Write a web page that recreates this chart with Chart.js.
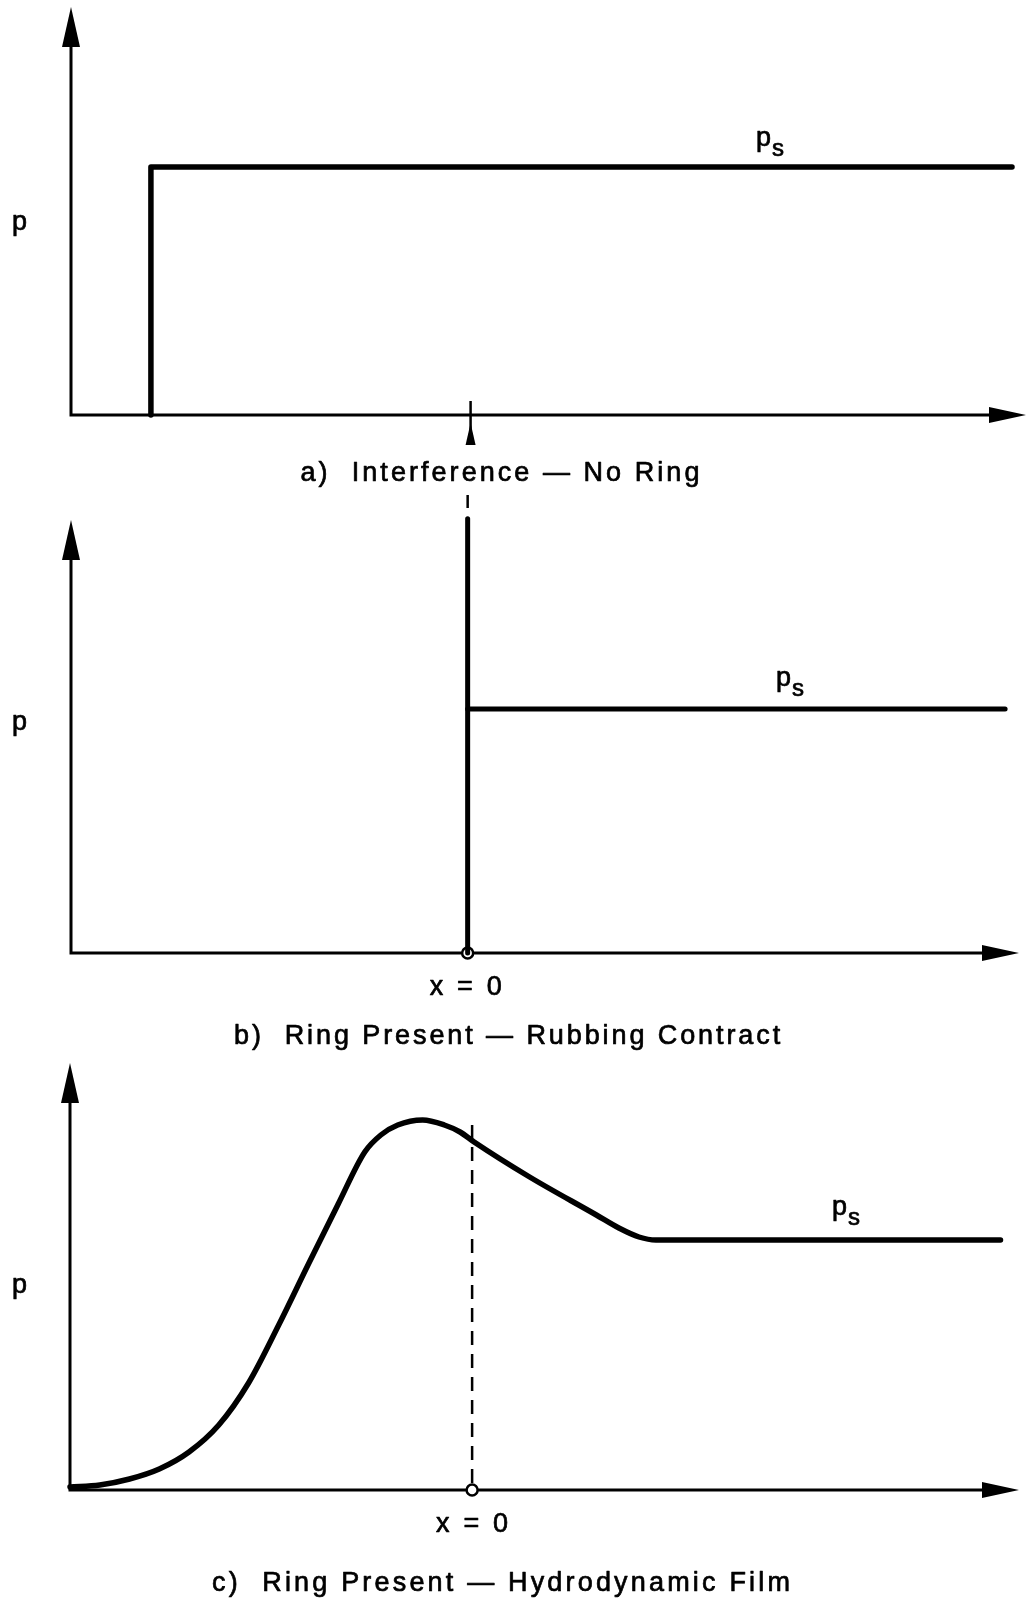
<!DOCTYPE html>
<html>
<head>
<meta charset="utf-8">
<title>Ring pressure profiles</title>
<script src="https://cdn.jsdelivr.net/npm/chart.js@4/dist/chart.umd.min.js"></script>
<style>
  html, body { margin: 0; padding: 0; background: #fff; }
  #wrap { position: relative; width: 1027px; height: 1602px; overflow: hidden; }
  #wrap canvas { position: absolute; left: 0; }
</style>
</head>
<body>
<div id="wrap">
  <canvas id="panelA" width="1027" height="500" style="top:0px"></canvas>
  <canvas id="panelB" width="1027" height="575" style="top:490px"></canvas>
  <canvas id="panelC" width="1027" height="557" style="top:1045px"></canvas>
</div>
<script>
// x is measured in units of the ring offset: the p-axis sits at x = -1, the ring at x = 0.
// p is measured in units of the supply pressure p_s.

// a) Interference, no ring: pressure jumps straight to p_s
const stepX = [-0.80, -0.80, 1.355];
const stepP = [0, 1, 1];

// b) Ring present, rubbing contact: spike at the ring, p_s downstream
const contactX = [0, 0];
const contactP = [0, 1.78];
const supplyBX = [0, 1.355];
const supplyBP = [1, 1];

// c) Ring present, hydrodynamic film: smooth build-up, peak, relax to p_s
const filmX = [-1.000, -0.926, -0.852, -0.778, -0.704, -0.630, -0.556, -0.481, -0.407, -0.333,
               -0.267, -0.227, -0.185, -0.123, -0.069, -0.030, 0.005, 0.143, 0.309, 0.365,
               0.415, 0.457, 1.314];
const filmP = [0.012, 0.020, 0.044, 0.084, 0.152, 0.260, 0.428, 0.660, 0.904, 1.144,
               1.352, 1.420, 1.460, 1.480, 1.460, 1.432, 1.392, 1.252, 1.100, 1.048,
               1.012, 1.000, 1.000];

// ring location on the x-axis
const ringX = [0];
const ringP = [0];

// axis extents (arrow tips) per panel
const pTop = { a: 1.645, b: 1.775, c: 1.708 };
const xMin = -1;
const xMax = { a: 1.39, b: 1.39, c: 1.36 };

// text drawn on each panel
const axisLabel = 'p';
const supplyLabel = ['p', 's'];
const ringLabel = 'x = 0';
const titles = [
  'a)  Interference — No Ring',
  'b)  Ring Present — Rubbing Contract',
  'c)  Ring Present — Hydrodynamic Film'
];

const INK = '#000';
const FONT = '"Liberation Sans", Arial, Helvetica, sans-serif';
const SIZE = 27;

function pts(xs, ps) { return xs.map((x, i) => ({ x: x, y: ps[i] })); }

function inkText(ctx, text, x, y) {
  ctx.fillText(text, x, y);
  ctx.strokeText(text, x, y);
}

function setInk(ctx, size) {
  ctx.font = size + 'px ' + FONT;
  ctx.fillStyle = INK;
  ctx.strokeStyle = INK;
  ctx.lineWidth = 0.7;
  ctx.lineJoin = 'round';
  ctx.textBaseline = 'alphabetic';
}

function fittedText(ctx, text, cx, baseline, width, size) {
  ctx.save();
  setInk(ctx, size);
  ctx.textAlign = 'left';
  const w = ctx.measureText(text).width;
  const n = text.length;
  const sp = n > 1 ? (width - w) / (n - 1) : 0;
  ctx.letterSpacing = sp.toFixed(2) + 'px';
  inkText(ctx, text, cx - width / 2, baseline);
  ctx.restore();
}

function plainText(ctx, text, x, baseline, size, align) {
  ctx.save();
  setInk(ctx, size);
  ctx.textAlign = align || 'left';
  inkText(ctx, text, x, baseline);
  ctx.restore();
}

function spacedCentered(ctx, text, cx, baseline, width, size) {
  fittedText(ctx, text, cx, baseline, width, size);
}

function supplyText(ctx, x, baseline) {
  ctx.save();
  setInk(ctx, SIZE);
  inkText(ctx, supplyLabel[0], x, baseline);
  const w = ctx.measureText(supplyLabel[0]).width;
  setInk(ctx, 24);
  inkText(ctx, supplyLabel[1], x + w + 1, baseline + 10);
  ctx.restore();
}

// axes with arrowheads, drawn from the scales of each panel
const axesPlugin = {
  id: 'arrowAxes',
  beforeDatasetsDraw(chart) {
    const ctx = chart.ctx;
    const xs = chart.scales.x, ys = chart.scales.y;
    const x0 = xs.getPixelForValue(xs.min);
    const y0 = ys.getPixelForValue(0);
    const yTop = ys.getPixelForValue(ys.max);
    const xEnd = xs.getPixelForValue(xs.max);
    ctx.save();
    ctx.strokeStyle = INK;
    ctx.fillStyle = INK;
    ctx.lineWidth = 3;
    ctx.lineCap = 'butt';
    ctx.beginPath();
    ctx.moveTo(x0, y0 + 1.5);
    ctx.lineTo(x0, yTop + 30);
    ctx.moveTo(x0 - 1.5, y0);
    ctx.lineTo(xEnd - 30, y0);
    ctx.stroke();
    // p-axis arrowhead
    ctx.beginPath();
    ctx.moveTo(x0, yTop);
    ctx.lineTo(x0 - 9, yTop + 40);
    ctx.lineTo(x0 + 9, yTop + 40);
    ctx.closePath();
    ctx.fill();
    // x-axis arrowhead
    ctx.beginPath();
    ctx.moveTo(xEnd, y0);
    ctx.lineTo(xEnd - 37, y0 - 8);
    ctx.lineTo(xEnd - 37, y0 + 8);
    ctx.closePath();
    ctx.fill();
    ctx.restore();
  },
  afterDraw(chart) {
    const o = chart.options.plugins.arrowAxes;
    const ctx = chart.ctx;
    const xs = chart.scales.x, ys = chart.scales.y;
    const rx = xs.getPixelForValue(0);
    const y0 = ys.getPixelForValue(0);

    plainText(ctx, axisLabel, o.pLabel[0], o.pLabel[1], SIZE);
    supplyText(ctx, o.supply[0], o.supply[1]);
    if (o.ring) spacedCentered(ctx, ringLabel, rx + o.ring[0], o.ring[1], 72, SIZE);
    fittedText(ctx, o.title, o.titlePos[0], o.titlePos[1], o.titlePos[2], SIZE);

    ctx.save();
    ctx.strokeStyle = INK;
    ctx.fillStyle = INK;
    if (o.marker === 'arrow') {
      // ring position pointer under the x-axis
      ctx.lineWidth = 2.5;
      ctx.beginPath();
      ctx.moveTo(rx, y0 - 14);
      ctx.lineTo(rx, y0 + 30);
      ctx.stroke();
      ctx.beginPath();
      ctx.moveTo(rx, y0 + 8);
      ctx.lineTo(rx - 5, y0 + 30);
      ctx.lineTo(rx + 5, y0 + 30);
      ctx.closePath();
      ctx.fill();
    }
    if (o.lead) {
      // short dashed lead joining the pointer above
      ctx.lineWidth = 2.5;
      ctx.beginPath();
      ctx.moveTo(rx, o.lead[0]);
      ctx.lineTo(rx, o.lead[1]);
      ctx.stroke();
    }
    if (o.dashTo !== undefined) {
      ctx.lineWidth = 2.5;
      ctx.setLineDash([14, 9]);
      ctx.beginPath();
      ctx.moveTo(rx, y0 - 7);
      ctx.lineTo(rx, ys.getPixelForValue(o.dashTo));
      ctx.stroke();
    }
    ctx.restore();
  }
};

function lineSet(data, width) {
  return {
    data: data,
    borderColor: INK,
    borderWidth: width,
    pointRadius: 0,
    fill: false,
    tension: 0,
    clip: false,
    borderJoinStyle: 'round',
    borderCapStyle: 'round'
  };
}

function ringSet() {
  return {
    type: 'scatter',
    data: pts(ringX, ringP),
    pointRadius: 5.5,
    pointBorderWidth: 2.5,
    pointBackgroundColor: '#fff',
    pointBorderColor: INK,
    clip: false
  };
}

function makePanel(id, datasets, top, right, padding, extra) {
  return new Chart(document.getElementById(id), {
    type: 'line',
    data: { datasets: datasets },
    options: {
      responsive: false,
      animation: false,
      events: [],
      layout: { padding: padding },
      scales: {
        x: { type: 'linear', min: xMin, max: right, display: false },
        y: { type: 'linear', min: 0, max: top, display: false }
      },
      plugins: {
        legend: { display: false },
        tooltip: { enabled: false },
        arrowAxes: extra
      }
    },
    plugins: [axesPlugin]
  });
}

// a) Interference — No Ring
makePanel('panelA',
  [lineSet(pts(stepX, stepP), 5.5)],
  pTop.a, xMax.a,
  { left: 71, right: 1, top: 7, bottom: 85 },
  { pLabel: [12, 230], supply: [756, 146], title: titles[0], titlePos: [500, 481, 399],
    marker: 'arrow' }
);

// b) Ring Present — Rubbing Contract
makePanel('panelB',
  [lineSet(pts(contactX, contactP), 5), lineSet(pts(supplyBX, supplyBP), 5), ringSet()],
  pTop.b, xMax.b,
  { left: 71, right: 1, top: 30, bottom: 112 },
  { pLabel: [12, 240], supply: [776, 196], ring: [-2, 505], title: titles[1], titlePos: [507, 554, 546],
    lead: [5, 18] }
);

// c) Ring Present — Hydrodynamic Film
const filmSet = lineSet(pts(filmX, filmP), 5.5);
filmSet.cubicInterpolationMode = 'monotone';
makePanel('panelC',
  [filmSet, ringSet()],
  pTop.c, xMax.c,
  { left: 70, right: 1, top: 18, bottom: 112 },
  { pLabel: [12, 248], supply: [832, 170], ring: [0, 487], title: titles[2], titlePos: [501, 546, 578],
    dashTo: 1.46 }
);
</script>
</body>
</html>
